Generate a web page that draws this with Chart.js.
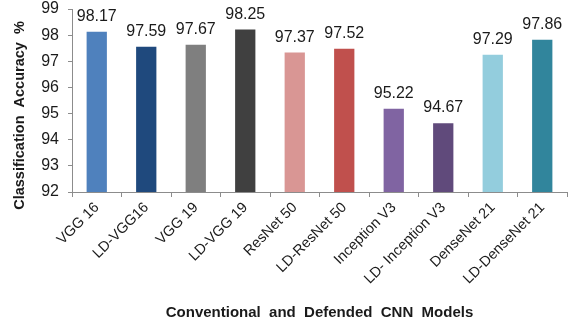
<!DOCTYPE html>
<html>
<head>
<meta charset="utf-8">
<script src="https://cdn.jsdelivr.net/npm/chart.js@4/dist/chart.umd.min.js"></script>
<style>
  html, body { margin: 0; padding: 0; background: #ffffff; }
  #wrap { width: 569px; height: 327px; }
</style>
</head>
<body>
<div id="wrap"><canvas id="chart" width="569" height="327"></canvas></div>
<script>
// Model names along the x axis
const models = ['VGG 16', 'LD-VGG16', 'VGG 19', 'LD-VGG 19', 'ResNet 50', 'LD-ResNet 50',
                'Inception V3', 'LD- Inception V3', 'DenseNet 21', 'LD-DenseNet 21'];
// Classification accuracy (%) per model
const accuracy = [98.17, 97.59, 97.67, 98.25, 97.37, 97.52, 95.22, 94.67, 97.29, 97.86];
// Bar fill per model
const barColors = ['#4f81bd', '#1f497d', '#7f7f7f', '#404040', '#d99694',
                   '#c0504d', '#8064a2', '#604a7b', '#93cddd', '#31859c'];
// Y axis tick range
const yMin = 92, yMax = 99, yStep = 1;
const yTitle = 'Classification  Accuracy  %';

const axisColor = '#8c8c8c';
const textColor = '#1a1a1a';
const fontFamily = '"Liberation Sans", Arial, sans-serif';

// Writes each bar's value just above it, and the rotated y-axis title
const valueLabels = {
  id: 'valueLabels',
  afterDatasetsDraw(chart) {
    const ctx = chart.ctx;
    const meta = chart.getDatasetMeta(0);
    ctx.save();
    ctx.font = '16px ' + fontFamily;
    ctx.fillStyle = textColor;
    ctx.textAlign = 'center';
    ctx.textBaseline = 'alphabetic';
    meta.data.forEach((bar, i) => {
      ctx.fillText(accuracy[i].toFixed(2), bar.x, bar.y - 10);
    });
    ctx.restore();

    // y title sits a little below the plot's vertical centre
    const area = chart.chartArea;
    ctx.save();
    ctx.translate(20, (area.top + area.bottom) / 2 + 15);
    ctx.rotate(-Math.PI / 2);
    ctx.font = 'bold 14.5px ' + fontFamily;
    ctx.fillStyle = textColor;
    ctx.textAlign = 'center';
    ctx.textBaseline = 'middle';
    ctx.fillText(yTitle, 0, 0);
    ctx.restore();
  }
};

new Chart(document.getElementById('chart'), {
  type: 'bar',
  data: {
    labels: models,
    datasets: [{
      data: accuracy,
      backgroundColor: barColors,
      borderColor: 'rgba(255,255,255,0.3)',
      borderWidth: 1,
      categoryPercentage: 1,
      barPercentage: 0.45
    }]
  },
  options: {
    responsive: false,
    animation: false,
    layout: { padding: { top: 9, right: 2, left: 0, bottom: 0 } },
    plugins: {
      legend: { display: false },
      tooltip: { enabled: false }
    },
    scales: {
      x: {
        grid: {
          offset: true,
          drawOnChartArea: false,
          drawTicks: true,
          tickLength: 5,
          color: axisColor
        },
        border: { color: axisColor, width: 1 },
        ticks: {
          minRotation: 45,
          maxRotation: 45,
          autoSkip: false,
          padding: 2,
          color: textColor,
          font: { family: fontFamily, size: 14.5 }
        },
        title: {
          display: true,
          text: 'Conventional  and  Defended  CNN  Models',
          color: textColor,
          font: { family: fontFamily, size: 15, weight: 'bold' },
          padding: { top: 4, bottom: 5 }
        },
        afterFit(scale) {
          scale.height = 135;
          scale.paddingLeft = 0;
          scale.paddingRight = 0;
        }
      },
      y: {
        min: yMin,
        max: yMax,
        grid: {
          drawOnChartArea: false,
          drawTicks: true,
          tickLength: 4,
          color: axisColor
        },
        border: { color: axisColor, width: 1 },
        ticks: {
          stepSize: yStep,
          padding: 9,
          color: textColor,
          font: { family: fontFamily, size: 16 }
        },
        afterFit(scale) {
          scale.width = 72;
          scale.paddingTop = 0;
          scale.paddingBottom = 0;
        }
      }
    }
  },
  plugins: [valueLabels]
});
</script>
</body>
</html>
